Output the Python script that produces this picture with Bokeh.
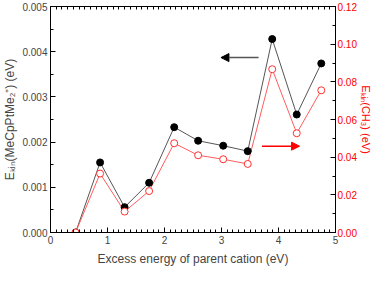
from bokeh.plotting import figure
from bokeh.models import (LinearAxis, Range1d, Arrow, NormalHead, SingleIntervalTicker,
                          FixedTicker, NumeralTickFormatter)
from bokeh.embed import file_html
from bokeh.resources import INLINE

# data
energy = [0.44, 0.87, 1.30, 1.73, 2.17, 2.59, 3.03, 3.46, 3.89, 4.32, 4.75]
ekin_parent = [0.0, 0.00155, 0.00056, 0.00110, 0.00233, 0.00203, 0.00192, 0.00180, 0.00428, 0.00261, 0.00374]
ekin_ch3 = [0.0, 0.0313, 0.0111, 0.0220, 0.0474, 0.0410, 0.0389, 0.0364, 0.0867, 0.0527, 0.0755]
top_minor = [i / 10 for i in range(0, 51)]
# arrow annotations (start x, end x, y on left axis)
arrow_left = [3.65, 2.99, 0.00387]
arrow_right = [3.71, 4.37, 0.00191]

FONT = "Liberation Sans"
p = figure(width=374, height=268, x_range=Range1d(0, 5), y_range=Range1d(0, 0.005),
           output_backend="svg", toolbar_location=None,
           min_border_left=2, min_border_right=0, min_border_top=6, min_border_bottom=0)
p.extra_y_ranges = {"right": Range1d(0, 0.12)}
p.grid.visible = False
p.outline_line_color = "black"
p.outline_line_width = 1

def style(ax):
    ax.major_tick_in = 5
    ax.major_tick_out = 0
    ax.minor_tick_in = 3
    ax.minor_tick_out = 0
    ax.axis_line_color = "black"
    ax.major_tick_line_color = "black"
    ax.minor_tick_line_color = "black"
    ax.major_label_text_font = FONT
    ax.major_label_text_font_size = "10px"
    ax.axis_label_text_font = FONT
    ax.axis_label_text_font_size = "12px"
    ax.axis_label_text_font_style = "normal"
    ax.major_label_standoff = 3
    ax.axis_label_standoff = 2

xa = p.xaxis[0]
xa.ticker = SingleIntervalTicker(interval=1, num_minor_ticks=10)
xa.axis_label = "Excess energy of parent cation (eV)"
style(xa)
xa.axis_label_standoff = 5

ya = p.yaxis[0]
ya.ticker = SingleIntervalTicker(interval=0.001, num_minor_ticks=2)
ya.formatter = NumeralTickFormatter(format="0.000")
ya.axis_label = "E\u2096\u1d62\u2099(MeCpPtMe\u2082\u207a) (eV)"
style(ya)

top = LinearAxis(ticker=FixedTicker(ticks=[], minor_ticks=top_minor))
style(top)
top.major_label_standoff = 0
p.add_layout(top, "above")

ra = LinearAxis(y_range_name="right",
                ticker=SingleIntervalTicker(interval=0.02, num_minor_ticks=2),
                formatter=NumeralTickFormatter(format="0.00"),
                axis_label="E\u2096\u1d62\u2099(CH\u2083) (eV)")
style(ra)
ra.major_label_standoff = 2
ra.axis_label_standoff = 0
ra.axis_label_text_font_size = "11px"
ra.major_label_text_color = "red"
ra.axis_label_text_color = "red"
p.add_layout(ra, "right")

p.line(energy, ekin_parent, line_color="#555555", line_width=1)
p.line(energy, ekin_ch3, line_color="#ff5c5c", line_width=1, y_range_name="right")
p.scatter(energy, ekin_parent, size=7, color="black")
p.scatter(energy, ekin_ch3, size=7, fill_color="white", line_color="#ff3030",
          line_width=1, y_range_name="right")

p.add_layout(Arrow(end=NormalHead(size=8, fill_color="black", line_color="black"),
                   x_start=arrow_left[0], x_end=arrow_left[1],
                   y_start=arrow_left[2], y_end=arrow_left[2],
                   line_color="#555555", line_width=1.5))
p.add_layout(Arrow(end=NormalHead(size=8, fill_color="red", line_color="red"),
                   x_start=arrow_right[0], x_end=arrow_right[1],
                   y_start=arrow_right[2], y_end=arrow_right[2],
                   line_color="red", line_width=1.5))

open("out.html", "w").write(file_html(p, INLINE))
